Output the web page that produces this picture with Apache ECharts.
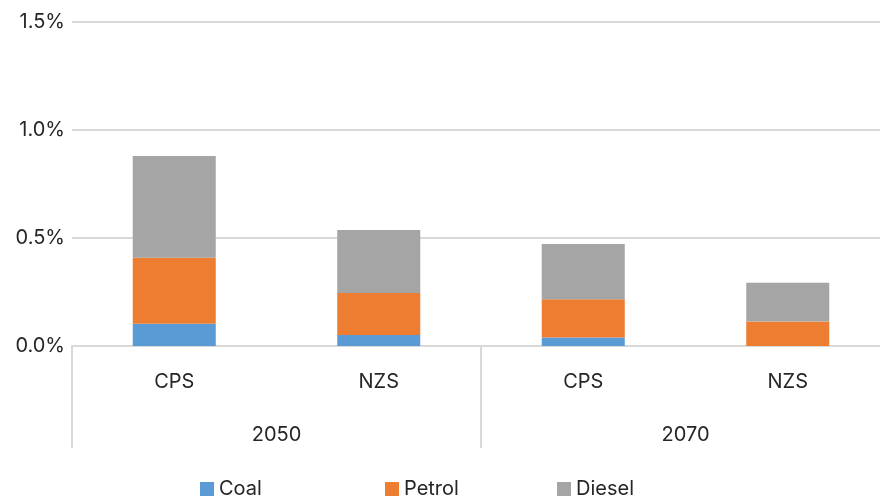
<!doctype html>
<html>
<head>
<meta charset="UTF-8">
<title>Share by fuel</title>
<script src="https://cdn.jsdelivr.net/npm/echarts@6/dist/echarts.min.js"></script>
<style>
    html, body { margin: 0; padding: 0; background: #fff; overflow: hidden; }
    #main { width: 890px; height: 501px; }
</style>
</head>
<body>
<div id="main"></div>
<script type="text/javascript">
    // scenario labels, years and values (percent)
    var scenarios = ['CPS', 'NZS', 'CPS', 'NZS'];
    var years = ['2050', '2070'];
    var coal = [0.103, 0.051, 0.039, 0];
    var petrol = [0.305, 0.194, 0.178, 0.113];
    var diesel = [0.472, 0.292, 0.255, 0.180];
    var yTicks = [0, 0.5, 1.0, 1.5];

    var font = 'Inter';
    var gridColor = '#d9d9d9';

    // the plot runs a little past the right edge of the page, as in the original
    var myChart = echarts.init(document.getElementById('main'));

    function legendAt(name, left) {
        return {
            data: [name],
            left: left,
            top: 474,
            itemWidth: 14,
            itemHeight: 14,
            itemGap: 10,
            icon: 'rect',
            textStyle: { fontFamily: font, fontSize: 20, color: '#262626' }
        };
    }

    var option = {
        backgroundColor: '#fff',
        animation: false,
        color: ['#5B9BD5', '#ED7D31', '#A5A5A5'],
        legend: [
            legendAt('Coal', 195),
            legendAt('Petrol', 380),
            legendAt('Diesel', 552)
        ],
        grid: {
            left: 72,
            top: 22,
            right: 0,
            bottom: 155
        },
        xAxis: [
            {
                type: 'category',
                data: scenarios,
                axisLine: { lineStyle: { color: gridColor, width: 2 } },
                axisTick: { show: false },
                axisLabel: {
                    margin: 26,
                    fontFamily: font,
                    fontSize: 20,
                    color: '#262626'
                }
            },
            {
                type: 'category',
                data: years,
                position: 'bottom',
                axisLine: { show: false },
                axisTick: {
                    show: true,
                    interval: 0,
                    length: 102,
                    lineStyle: { color: gridColor, width: 2 }
                },
                axisLabel: {
                    margin: 79,
                    fontFamily: font,
                    fontSize: 20,
                    color: '#262626'
                }
            }
        ],
        yAxis: {
            type: 'value',
            min: yTicks[0],
            max: yTicks[yTicks.length - 1],
            interval: 0.5,
            axisLine: { show: false },
            axisTick: { show: false },
            splitLine: { lineStyle: { color: gridColor, width: 2 } },
            axisLabel: {
                margin: 7,
                fontFamily: font,
                fontSize: 20,
                color: '#262626',
                formatter: function (v) { return v.toFixed(1) + '%'; }
            }
        },
        series: [
            { name: 'Coal', type: 'bar', stack: 'fuel', barWidth: '40.6%', data: coal },
            { name: 'Petrol', type: 'bar', stack: 'fuel', barWidth: '40.6%', data: petrol },
            { name: 'Diesel', type: 'bar', stack: 'fuel', barWidth: '40.6%', data: diesel }
        ]
    };

    myChart.setOption(option);
</script>
</body>
</html>
